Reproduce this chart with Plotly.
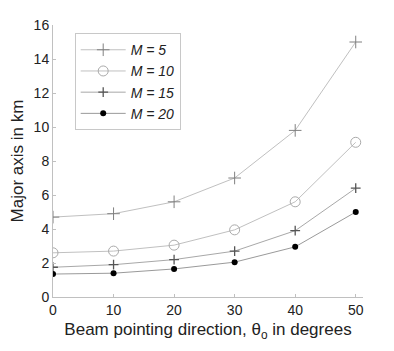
import plotly.graph_objects as go

theta = [0, 10, 20, 30, 40, 50]
m5 = [4.7, 4.9, 5.6, 7.0, 9.8, 15.0]
m10 = [2.6, 2.7, 3.05, 3.95, 5.6, 9.1]
m15 = [1.75, 1.9, 2.2, 2.7, 3.9, 6.4]
m20 = [1.35, 1.4, 1.65, 2.05, 2.95, 5.0]
names = ["<i>M = 5</i>", "<i>M = 10</i>", "<i>M = 15</i>", "<i>M = 20</i>"]
xticks = [0, 10, 20, 30, 40, 50]
yticks = [0, 2, 4, 6, 8, 10, 12, 14, 16]

fig = go.Figure()
styles = [
    (m5, dict(symbol="cross-thin", size=9, line=dict(color="#808080", width=1), color="#808080"), "#c0c0c0"),
    (m10, dict(symbol="circle-open", size=10, line=dict(color="#aaa", width=1), color="#aaa"), "#c0c0c0"),
    (m15, dict(symbol="cross-thin", size=7, line=dict(color="#555", width=1.3), color="#555"), "#a8a8a8"),
    (m20, dict(symbol="circle", size=6, color="black"), "#9a9a9a"),
]
for (ys, mk, lc), nm in zip(styles, names):
    fig.add_trace(go.Scatter(x=theta, y=ys, mode="lines+markers", name=nm,
                             line=dict(color=lc, width=1), marker=mk))

fig.update_layout(
    width=386, height=343,
    margin=dict(l=45, r=31, t=17, b=54),
    paper_bgcolor="white", plot_bgcolor="white",
    font=dict(family="Liberation Sans, Arial, sans-serif", size=14, color="#222"),
    legend=dict(x=0.07, y=0.97, xanchor="left", yanchor="top",
                bordercolor="#c8c8c8", borderwidth=1, bgcolor="white",
                font=dict(size=14), tracegroupgap=0, itemwidth=45),
    xaxis=dict(range=[0, 51.2], tickvals=xticks, showline=True, linecolor="#c0c0c0",
               ticks="inside", ticklen=3, tickcolor="#c0c0c0", showgrid=False, zeroline=False,
               automargin=False,
               title=dict(text="Beam pointing direction, θ<sub>o</sub> in degrees", standoff=6)),
    yaxis=dict(range=[0, 16], tickvals=yticks, showline=True, linecolor="#c0c0c0",
               ticks="inside", ticklen=3, tickcolor="#c0c0c0", showgrid=False, zeroline=False,
               automargin=False,
               title=dict(text="Major axis in km", standoff=6)),
)
fig.write_html("out.html")
